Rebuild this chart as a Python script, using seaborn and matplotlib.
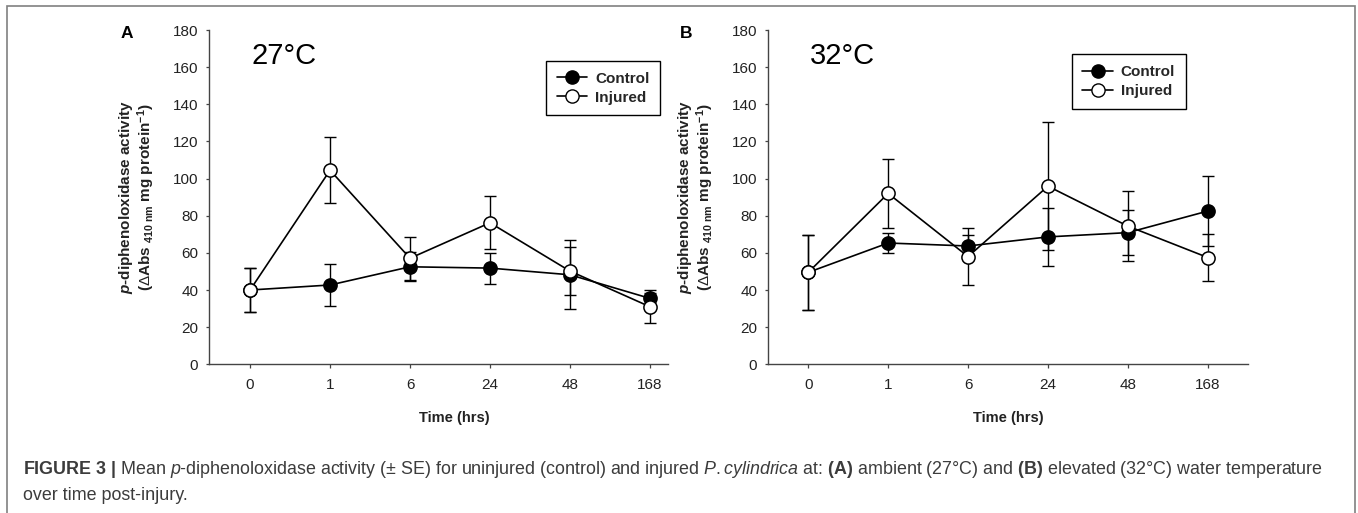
import numpy as np
import pandas as pd
import matplotlib
matplotlib.use("Agg")
import matplotlib.pyplot as plt
import matplotlib.transforms as mtransforms
from matplotlib.lines import Line2D
from matplotlib.patches import Rectangle
import seaborn as sns

# data (mean +/- SE)
times = ["0", "1", "6", "24", "48", "168"]

ctrl_27 = [40.0, 42.7, 52.5, 51.8, 48.2, 35.5]
ctrl_27_se = [11.8, 11.3, 7.8, 8.3, 18.5, 3.1]
inj_27 = [40.0, 104.5, 57.1, 76.2, 50.2, 31.0]
inj_27_se = [11.8, 17.9, 11.6, 14.3, 13.0, 9.0]

ctrl_32 = [49.5, 65.3, 63.7, 68.6, 70.9, 82.5]
ctrl_32_se = [20.3, 5.2, 6.0, 15.7, 12.1, 18.7]
inj_32 = [49.5, 92.0, 58.0, 95.9, 74.4, 57.5]
inj_32_se = [20.3, 18.5, 15.3, 34.4, 18.8, 12.8]

sns.set_style("ticks")
plt.rcParams['font.family'] = ['Liberation Sans', 'DejaVu Sans']
plt.rcParams['mathtext.fontset'] = 'custom'
plt.rcParams['mathtext.rm'] = 'Liberation Sans'
plt.rcParams['mathtext.it'] = 'Liberation Sans:italic'
plt.rcParams['mathtext.bf'] = 'Liberation Sans:bold'
plt.rcParams['mathtext.bfit'] = 'Liberation Sans:italic:bold'

W, H = 1358, 513
fig = plt.figure(figsize=(W / 100, H / 100), dpi=100)


def rect(x0, y0, x1, y1):
    # pixel box (top-left origin) -> figure fraction
    return [x0 / W, 1 - y1 / H, (x1 - x0) / W, (y1 - y0) / H]


axA = fig.add_axes(rect(209.3, 30, 668.3, 364.3))
axB = fig.add_axes(rect(768.3, 30, 1247.7, 364.3))

panels = [
    (axA, ctrl_27, ctrl_27_se, inj_27, inj_27_se, "A", "27°C", (-0.51, 5.23), (546, 61), 454),
    (axB, ctrl_32, ctrl_32_se, inj_32, inj_32_se, "B", "32°C", (-0.50, 5.50), (1071.7, 54.3), 1008),
]

pos = np.arange(len(times))
ink = "#222222"

for ax, c, cse, inj, ise, letter, temp, xl, leg_xy, xlab_x in panels:
    df = pd.DataFrame({"pos": np.concatenate([pos, pos]),
                       "value": c + inj,
                       "se": cse + ise,
                       "group": ["Control"] * len(pos) + ["Injured"] * len(pos)})

    for g in ["Control", "Injured"]:
        d = df[df.group == g]
        ax.errorbar(d.pos, d.value, yerr=d.se, fmt="none", ecolor="black",
                    elinewidth=1.0, capsize=4.6, capthick=1.0, zorder=2)

    sns.lineplot(data=df[df.group == "Control"], x="pos", y="value", ax=ax,
                 color="black", marker="o", markersize=9.5, markerfacecolor="black",
                 markeredgecolor="black", markeredgewidth=1.1, linewidth=1.2,
                 errorbar=None, zorder=3)
    sns.lineplot(data=df[df.group == "Injured"], x="pos", y="value", ax=ax,
                 color="black", marker="o", markersize=9.5, markerfacecolor="white",
                 markeredgecolor="black", markeredgewidth=1.1, linewidth=1.2,
                 errorbar=None, zorder=4)

    ax.set_xlim(*xl)
    ax.set_ylim(0, 180)
    ax.set_yticks(np.arange(0, 181, 20))
    ax.set_xticks(pos)
    ax.set_xticklabels(times)
    ax.set_xlabel("")
    ax.set_ylabel("")
    sns.despine(ax=ax)
    for sp in ["left", "bottom"]:
        ax.spines[sp].set_color("#444444")
        ax.spines[sp].set_linewidth(1.0)
    ax.tick_params(axis="y", direction="out", length=2.5, width=0.9, pad=5.5,
                   labelsize=11, colors="#444444", labelcolor=ink)
    ax.tick_params(axis="x", direction="out", length=3, width=0.9, pad=7,
                   labelsize=11, colors="#444444", labelcolor=ink)

    # two-line y label
    off1 = mtransforms.ScaledTranslation(-83 / 100, 0, fig.dpi_scale_trans)
    off2 = mtransforms.ScaledTranslation(-63 / 100, 0, fig.dpi_scale_trans)
    ax.text(0, 0.5, r"$\mathbfit{p}$-diphenoloxidase activity", transform=ax.transAxes + off1,
            rotation=90, ha="center", va="center", fontsize=11, fontweight="bold", color=ink)
    ax.text(0, 0.5, r"($\Delta$Abs $_{\mathbf{410\ nm}}$ mg protein$^{\mathbf{-1}}$)",
            transform=ax.transAxes + off2,
            rotation=90, ha="center", va="center", fontsize=11, fontweight="bold", color=ink)

    x0 = ax.get_position().x0 * W
    fig.text((x0 - 82) / W, 1 - 33 / H, letter, fontsize=12.5, fontweight="bold",
             ha="center", va="center", color="black")
    fig.text((x0 + 42) / W, 1 - 64 / H, temp, fontsize=21, ha="left",
             va="baseline", color="black")
    fig.text(xlab_x / W, 1 - 418.3 / H, "Time (hrs)", fontsize=10.5, fontweight="bold",
             ha="center", va="center", color=ink)

    handles = [
        Line2D([], [], color="black", lw=1.2, marker="o", markersize=9.5,
               markerfacecolor="black", markeredgecolor="black"),
        Line2D([], [], color="black", lw=1.2, marker="o", markersize=9.5,
               markerfacecolor="white", markeredgecolor="black"),
    ]
    leg = ax.legend(handles, ["Control", "Injured"], loc="upper left",
                    bbox_to_anchor=(leg_xy[0] / W, 1 - leg_xy[1] / H),
                    bbox_transform=fig.transFigure, borderaxespad=0,
                    frameon=True, fancybox=False, framealpha=1, edgecolor="black",
                    handlelength=2.0, handletextpad=0.5, borderpad=0.7,
                    labelspacing=0.32, prop={"size": 11, "weight": "bold"})
    leg.get_frame().set_linewidth(1.0)

# caption
cap_col = "#3c3c3c"
cap1 = (r"$\mathbf{FIGURE\ 3\ |}$ Mean $\mathit{p}$-diphenoloxidase activity ($\pm$ SE) "
        r"for uninjured (control) and injured $\mathit{P.cylindrica}$ at: $\mathbf{(A)}$ "
        r"ambient (27°C) and $\mathbf{(B)}$ elevated (32°C) water temperature")
fig.text(22.7 / W, 1 - 474 / H, cap1, fontsize=12.85, ha="left", va="baseline", color=cap_col)
fig.text(22.7 / W, 1 - 500.5 / H, "over time post-injury.", fontsize=12.85, ha="left",
         va="baseline", color=cap_col)

# outer frame
fig.patches.append(Rectangle((7 / W, -0.05), (1355 - 7) / W, 1.05 - 6 / H,
                             transform=fig.transFigure, fill=False,
                             edgecolor="#808080", linewidth=1.2))

fig.savefig("out.png", dpi=100)
